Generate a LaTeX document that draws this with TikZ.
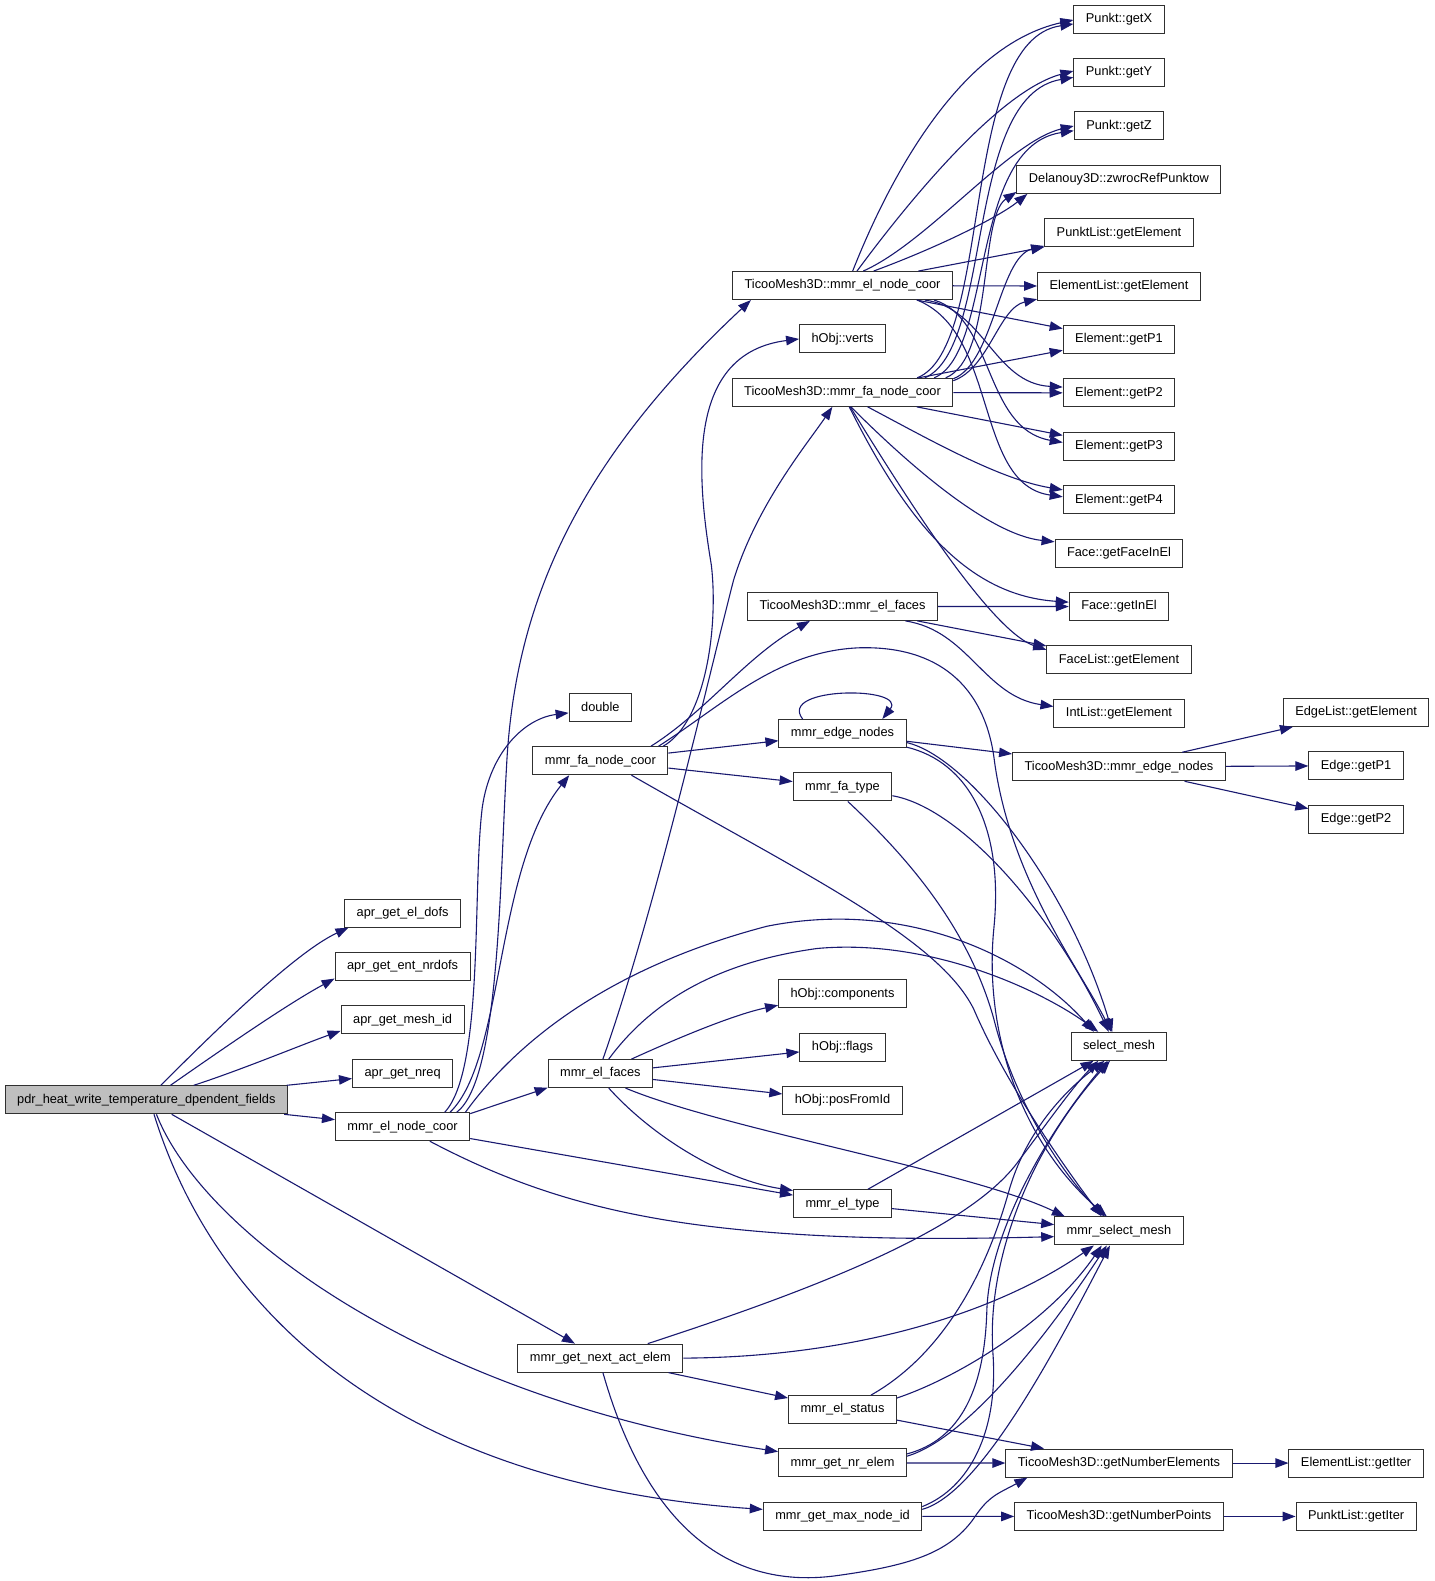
\documentclass[tikz,border=0pt]{standalone}
\usepackage{fontspec}
\setmainfont{Liberation Sans}
\usetikzlibrary{positioning,arrows.meta}
\definecolor{edgeblue}{HTML}{191970}
\definecolor{boxline}{HTML}{303030}
\definecolor{rootfill}{HTML}{BFBFBF}

\begin{document}
\begin{tikzpicture}[x=1.009pt,y=-1.009pt,->,>={Triangle[length=13pt,width=9.5pt]},
    node distance=53.4pt,
    func node/.style={rectangle,draw=boxline,line width=1pt,fill=white,
      font=\fontsize{12.8}{14}\selectfont,inner xsep=12pt,inner ysep=0pt,minimum height=28pt},
    root node/.style={func node,fill=rootfill},
    call/.style={draw=edgeblue,line width=1.1pt},
    every edge/.style={call}]

  \useasboundingbox (0,0) rectangle (1422.2,1566.9);
  \fill[white] (0,0) rectangle (1422.2,1566.9);

  % caller and first level
  \node[root node] (pdr) at (145,1090) {pdr\_heat\_write\_temperature\_dpendent\_fields};
  \node[func node] (aeldofs) at (399,905) {apr\_get\_el\_dofs};
  \node[func node] (aentnrdofs) [below of=aeldofs] {apr\_get\_ent\_nrdofs};
  \node[func node] (ameshid) [below of=aentnrdofs] {apr\_get\_mesh\_id};
  \node[func node] (anreq) [below of=ameshid] {apr\_get\_nreq};
  \node[func node] (elnodecoor) [below of=anreq] {mmr\_el\_node\_coor};

  % second level
  \node[func node] (double) at (595,701) {double};
  \node[func node] (fanodecoor) [below of=double] {mmr\_fa\_node\_coor};
  \node[func node] (elfaces) at (595,1064) {mmr\_el\_faces};
  \node[func node] (nextact) at (595,1346) {mmr\_get\_next\_act\_elem};

  % third level
  \node[func node] (tmelnode) at (835,283) {TicooMesh3D::mmr\_el\_node\_coor};
  \node[func node] (verts) [below of=tmelnode] {hObj::verts};
  \node[func node] (tmfanode) [below of=verts] {TicooMesh3D::mmr\_fa\_node\_coor};
  \node[func node] (tmelfaces) at (835,601) {TicooMesh3D::mmr\_el\_faces};
  \node[func node] (edgenodes) at (835,727) {mmr\_edge\_nodes};
  \node[func node] (fatype) [below of=edgenodes] {mmr\_fa\_type};
  \node[func node] (comps) at (835,985) {hObj::components};
  \node[func node] (flags) [below of=comps] {hObj::flags};
  \node[func node] (posfromid) [below of=flags] {hObj::posFromId};
  \node[func node] (eltype) at (835,1193) {mmr\_el\_type};
  \node[func node] (elstatus) at (835,1397) {mmr\_el\_status};
  \node[func node] (nrelem) [below of=elstatus] {mmr\_get\_nr\_elem};
  \node[func node] (maxnode) [below of=nrelem] {mmr\_get\_max\_node\_id};

  % fourth level
  \node[func node] (getx) at (1109,19) {Punkt::getX};
  \node[func node] (gety) [below of=getx] {Punkt::getY};
  \node[func node] (getz) [below of=gety] {Punkt::getZ};
  \node[func node] (zwroc) [below of=getz] {Delanouy3D::zwrocRefPunktow};
  \node[func node] (plgetel) [below of=zwroc] {PunktList::getElement};
  \node[func node] (elgetel) [below of=plgetel] {ElementList::getElement};
  \node[func node] (p1) [below of=elgetel] {Element::getP1};
  \node[func node] (p2) [below of=p1] {Element::getP2};
  \node[func node] (p3) [below of=p2] {Element::getP3};
  \node[func node] (p4) [below of=p3] {Element::getP4};
  \node[func node] (faceinel) [below of=p4] {Face::getFaceInEl};
  \node[func node] (getinel) [below of=faceinel] {Face::getInEl};
  \node[func node] (flgetel) [below of=getinel] {FaceList::getElement};
  \node[func node] (ilgetel) [below of=flgetel] {IntList::getElement};
  \node[func node] (tmedge) [below of=ilgetel] {TicooMesh3D::mmr\_edge\_nodes};
  \node[func node] (selmesh) at (1109,1037) {select\_mesh};
  \node[func node] (mmrsel) at (1109,1220) {mmr\_select\_mesh};
  \node[func node] (numel) at (1109,1450) {TicooMesh3D::getNumberElements};
  \node[func node] (numpts) [below of=numel] {TicooMesh3D::getNumberPoints};

  % fifth level
  \node[func node] (eglget) at (1344,706) {EdgeList::getElement};
  \node[func node] (egp1) [below of=eglget] {Edge::getP1};
  \node[func node] (egp2) [below of=egp1] {Edge::getP2};
  \node[func node] (eliter) at (1344,1450) {ElementList::getIter};
  \node[func node] (pliter) [below of=eliter] {PunktList::getIter};

  % calls of the caller
  \path (pdr) edge (anreq)
        (pdr) edge (elnodecoor)
        (pdr) edge (nextact);
  \draw[call] (pdr.45) .. controls (200,1035) and (290,945) .. (aeldofs.195);
  \draw[call] (pdr.31) .. controls (220,1040) and (285,995) .. (aentnrdofs.190);
  \draw[call] (pdr.17) .. controls (240,1060) and (300,1035) .. (ameshid.190);
  \draw[call] (pdr.-55) .. controls (200,1220) and (420,1385) .. (nrelem.170);
  \draw[call] (pdr.-62) .. controls (210,1290) and (380,1470) .. (maxnode.175);

  % mmr_el_node_coor
  \path (elnodecoor.11) edge (elfaces.195)
        (elnodecoor) edge (eltype);
  \draw[call] (elnodecoor.15) .. controls (495,1070) and (495,880) .. (502,760)
    .. controls (510,600) and (570,460) .. (tmelnode.-171);
  \draw[call] (elnodecoor.19) .. controls (480,1060) and (468,880) .. (478,800)
    .. controls (486,745) and (520,712) .. (double.190);
  \draw[call] (elnodecoor.17) .. controls (500,1050) and (490,860) .. (fanodecoor.-155);
  \draw[call] (elnodecoor.13) .. controls (510,1035) and (600,960) .. (760,918)
    .. controls (900,890) and (1020,950) .. (selmesh.150);
  \draw[call] (elnodecoor.-28) .. controls (500,1170) and (580,1200) .. (700,1215)
    .. controls (820,1230) and (950,1228) .. (mmrsel.185);

  % mmr_fa_node_coor
  \path (fanodecoor) edge (edgenodes)
        (fanodecoor) edge (fatype);
  \draw[call] (fanodecoor.13) .. controls (700,715) and (712,620) .. (705,560)
    .. controls (690,470) and (680,350) .. (verts.west);
  \draw[call] (fanodecoor.16) .. controls (700,705) and (740,650) .. (tmelfaces.-156);
  \draw[call] (fanodecoor.14) .. controls (715,700) and (770,645) .. (852,642)
    .. controls (930,640) and (975,680) .. (985,750)
    .. controls (1000,870) and (1070,960) .. (selmesh.118);
  \draw[call] (fanodecoor.-25) .. controls (800,868) and (930,930) .. (965,1000)
    .. controls (995,1070) and (1050,1150) .. (mmrsel.140);

  % mmr_el_faces
  \path (elfaces) edge (flags)
        (elfaces) edge (posfromid);
  \draw[call] (elfaces.80) .. controls (650,900) and (700,680) .. (727,575)
    .. controls (750,500) and (800,440) .. (tmfanode.-125);
  \draw[call] (elfaces.25) .. controls (680,1025) and (730,1005) .. (comps.190);
  \draw[call] (elfaces.60) .. controls (640,1000) and (700,955) .. (810,940)
    .. controls (920,930) and (1030,980) .. (selmesh.145);
  \draw[call] (elfaces.-60) .. controls (650,1130) and (720,1170) .. (eltype.165);
  \draw[call] (elfaces.-30) .. controls (720,1120) and (960,1160) .. (mmrsel.165);

  % TicooMesh3D::mmr_el_node_coor
  \path (tmelnode) edge (plgetel)
        (tmelnode) edge (elgetel)
        (tmelnode) edge (p1);
  \draw[call] (tmelnode.55) .. controls (880,180) and (950,45) .. (getx.181);
  \draw[call] (tmelnode.45) .. controls (900,200) and (990,90) .. (gety.178);
  \draw[call] (tmelnode.35) .. controls (920,240) and (1000,140) .. (getz.180);
  \draw[call] (tmelnode.25) .. controls (930,245) and (990,215) .. (zwroc.-171);
  \draw[call] (tmelnode.-10) .. controls (975,305) and (985,380) .. (p2.174);
  \draw[call] (tmelnode.-9) .. controls (985,315) and (975,425) .. (p3.176);
  \draw[call] (tmelnode.-11) .. controls (990,330) and (965,480) .. (p4.177);

  % TicooMesh3D::mmr_fa_node_coor
  \path (tmfanode) edge (p1)
        (tmfanode) edge (p2)
        (tmfanode) edge (p3);
  \draw[call] (tmfanode.11) .. controls (985,345) and (950,40) .. (getx.186);
  \draw[call] (tmfanode.10) .. controls (985,345) and (955,95) .. (gety.186);
  \draw[call] (tmfanode.9) .. controls (985,350) and (960,145) .. (getz.186);
  \draw[call] (tmfanode.8) .. controls (985,355) and (970,215) .. (zwroc.-173);
  \draw[call] (tmfanode.7) .. controls (985,360) and (990,255) .. (plgetel.-170);
  \draw[call] (tmfanode.6) .. controls (980,365) and (990,305) .. (elgetel.-171);
  \draw[call] (tmfanode.-30) .. controls (920,435) and (990,475) .. (p4.170);
  \draw[call] (tmfanode.-60) .. controls (900,460) and (980,530) .. (faceinel.170);
  \draw[call] (tmfanode.-65) .. controls (900,520) and (960,590) .. (getinel.175);
  \draw[call] (tmfanode.-62) .. controls (890,480) and (980,625) .. (flgetel.172);

  % TicooMesh3D::mmr_el_faces
  \path (tmelfaces) edge (getinel)
        (tmelfaces) edge (flgetel);
  \draw[call] (tmelfaces.-13) .. controls (960,625) and (975,690) .. (ilgetel.174);

  % mmr_edge_nodes and mmr_fa_type
  \path (edgenodes) edge (tmedge)
        (tmedge) edge (eglget)
        (tmedge) edge (egp1)
        (tmedge) edge (egp2);
  \draw[call] (edgenodes.160) .. controls (770,680) and (900,680) .. (edgenodes.20);
  \draw[call] (edgenodes.-8) .. controls (960,750) and (1060,880) .. (selmesh.115);
  \draw[call] (edgenodes.-12) .. controls (960,755) and (995,820) .. (985,920)
    .. controls (975,1020) and (1010,1130) .. (mmrsel.130);
  \draw[call] (fatype.-10) .. controls (950,800) and (1040,900) .. (selmesh.125);
  \draw[call] (fatype.-70) .. controls (900,850) and (960,920) .. (985,1010)
    .. controls (1005,1090) and (1050,1160) .. (mmrsel.135);

  % lower callers
  \path (eltype) edge (selmesh)
        (eltype) edge (mmrsel)
        (nextact) edge (elstatus)
        (elstatus) edge (numel)
        (nrelem) edge (numel)
        (maxnode) edge (numpts)
        (numel) edge (eliter)
        (numpts) edge (pliter);
  \draw[call] (nextact.17) .. controls (800,1280) and (960,1220) .. (1010,1150)
    .. controls (1040,1110) and (1065,1075) .. (selmesh.-145);
  \draw[call] (nextact.east) .. controls (850,1345) and (990,1300) .. (mmrsel.-150);
  \draw[call] (nextact.-80) .. controls (640,1510) and (720,1575) .. (826,1562)
    .. controls (900,1552) and (940,1540) .. (965,1505)
    .. controls (980,1482) and (990,1480) .. (numel.-171);
  \draw[call] (elstatus.27) .. controls (930,1345) and (975,1270) .. (1000,1180)
    .. controls (1020,1110) and (1070,1070) .. (selmesh.-135);
  \draw[call] (elstatus.12) .. controls (950,1365) and (1040,1310) .. (mmrsel.-140);
  \draw[call] (nrelem.8) .. controls (940,1430) and (975,1395) .. (978,1300)
    .. controls (980,1220) and (1040,1120) .. (selmesh.-128);
  \draw[call] (nrelem.6) .. controls (960,1425) and (1040,1320) .. (mmrsel.-130);
  \draw[call] (maxnode.7) .. controls (960,1475) and (990,1420) .. (984,1340)
    .. controls (978,1250) and (1020,1140) .. (selmesh.-122);
  \draw[call] (maxnode.5) .. controls (970,1480) and (1040,1350) .. (mmrsel.-122);
\end{tikzpicture}
\end{document}
